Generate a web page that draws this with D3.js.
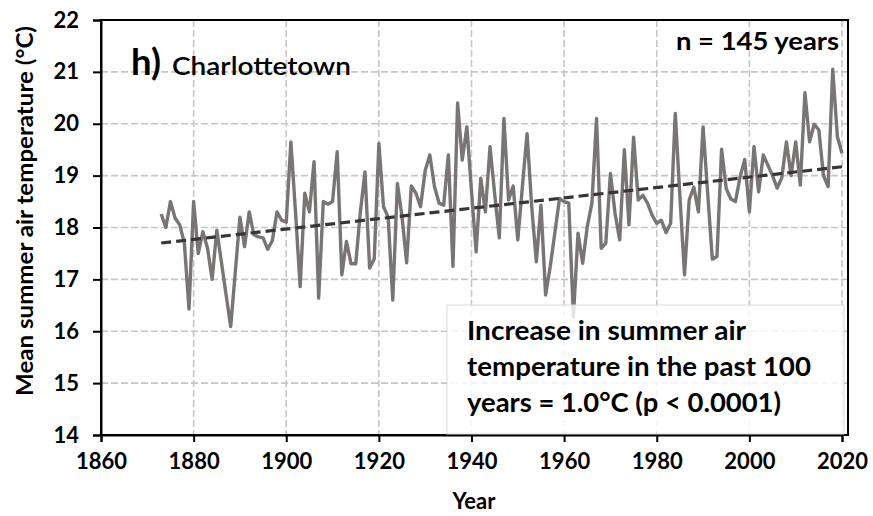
<!DOCTYPE html>
<html>
<head>
<meta charset="utf-8">
<script src="https://cdn.jsdelivr.net/npm/d3@7"></script>
<style>
  html, body { margin: 0; padding: 0; background: #fff; }
  svg { display: block; font-family: Lato, "Open Sans", "Liberation Sans", sans-serif; }
</style>
</head>
<body>
<svg id="chart" width="873" height="516"></svg>
<script>
// Mean summer air temperature, Charlottetown (1886, 1887 and 1889 not recorded)
const years = [
  1873, 1874, 1875, 1876, 1877, 1878, 1879, 1880, 1881, 1882, 1883, 1884, 1885,
  1888, 1890, 1891, 1892, 1893, 1894, 1895, 1896, 1897, 1898, 1899,
  1900, 1901, 1902, 1903, 1904, 1905, 1906, 1907, 1908, 1909,
  1910, 1911, 1912, 1913, 1914, 1915, 1916, 1917, 1918, 1919,
  1920, 1921, 1922, 1923, 1924, 1925, 1926, 1927, 1928, 1929,
  1930, 1931, 1932, 1933, 1934, 1935, 1936, 1937, 1938, 1939,
  1940, 1941, 1942, 1943, 1944, 1945, 1946, 1947, 1948, 1949,
  1950, 1951, 1952, 1953, 1954, 1955, 1956, 1957, 1958, 1959,
  1960, 1961, 1962, 1963, 1964, 1965, 1966, 1967, 1968, 1969,
  1970, 1971, 1972, 1973, 1974, 1975, 1976, 1977, 1978, 1979,
  1980, 1981, 1982, 1983, 1984, 1985, 1986, 1987, 1988, 1989,
  1990, 1991, 1992, 1993, 1994, 1995, 1996, 1997, 1998, 1999,
  2000, 2001, 2002, 2003, 2004, 2005, 2006, 2007, 2008, 2009,
  2010, 2011, 2012, 2013, 2014, 2015, 2016, 2017, 2018, 2019,
  2020
];
const temps = [
  18.26, 18.00, 18.50, 18.18, 18.05, 17.70, 16.43, 18.50, 17.50, 17.92, 17.60, 17.00, 17.95,
  16.09, 18.20, 17.63, 18.30, 17.86, 17.82, 17.80, 17.58, 17.75, 18.30, 18.14,
  18.10, 19.65, 18.30, 16.86, 18.66, 18.30, 19.27, 16.64, 18.50, 18.45,
  18.50, 19.46, 17.09, 17.73, 17.30, 17.30, 18.30, 19.07, 17.22, 17.40,
  19.62, 18.40, 18.20, 16.60, 18.85, 18.20, 17.32, 18.80, 18.66, 18.40,
  19.10, 19.40, 18.79, 18.47, 18.43, 19.40, 17.25, 20.40, 19.30, 19.94,
  18.70, 17.53, 18.95, 18.30, 19.56, 18.65, 17.80, 20.10, 18.53, 18.80,
  17.76, 18.80, 19.81, 18.40, 17.34, 18.43, 16.70, 17.25, 17.90, 18.56,
  18.50, 18.47, 16.28, 17.89, 17.31, 18.02, 18.47, 20.10, 17.60, 17.70,
  19.04, 18.27, 17.76, 19.50, 18.05, 19.74, 18.53, 18.62, 18.47, 18.24,
  18.08, 18.14, 17.90, 18.08, 20.20, 18.60, 17.09, 18.53, 18.78, 18.30,
  19.94, 18.66, 17.39, 17.44, 19.51, 18.75, 18.55, 18.50, 18.98, 19.31,
  18.30, 19.56, 18.69, 19.40, 19.20, 19.00, 18.76, 18.96, 19.65, 19.00,
  19.65, 18.82, 20.60, 19.65, 19.99, 19.88, 19.00, 18.79, 21.05, 19.75,
  19.43
];
const xTicks = [1860, 1880, 1900, 1920, 1940, 1960, 1980, 2000, 2020];
const yTicks = [14, 15, 16, 17, 18, 19, 20, 21, 22];
const ratePerCentury = 1.0;   // °C per 100 years
const annotationLines = [
  "Increase in summer air",
  "temperature in the past 100",
  "years = 1.0°C (p < 0.0001)"
];
const annotationWidths = [279, 344, 314];

const data = years.map((yr, i) => ({ year: yr, t: temps[i] }));

const svg = d3.select("#chart");
const plotLeft = 101, plotRight = 848, plotTop = 20, plotBottom = 435;

const x = d3.scaleLinear().domain([1860, 2020]).range([plotLeft, 842]);
const y = d3.scaleLinear().domain([14, 22]).range([plotBottom, plotTop]);

// grid
const grid = svg.append("g")
  .attr("stroke", "#c6c6c6").attr("stroke-width", 1.6)
  .attr("stroke-dasharray", "7,3").attr("fill", "none");
grid.selectAll("line.h").data(yTicks.filter(d => d > 14 && d < 22)).join("line")
  .attr("class", "h")
  .attr("x1", plotLeft).attr("x2", plotRight)
  .attr("y1", d => y(d)).attr("y2", d => y(d));
grid.selectAll("line.v").data(xTicks.filter(d => d > 1860)).join("line")
  .attr("class", "v")
  .attr("y1", plotTop).attr("y2", plotBottom)
  .attr("x1", d => x(d)).attr("x2", d => x(d));

// temperature series
const line = d3.line().x(d => x(d.year)).y(d => y(d.t));
svg.append("path").datum(data)
  .attr("d", line)
  .attr("fill", "none")
  .attr("stroke", "#7a7575")
  .attr("stroke-width", 3.4)
  .attr("stroke-linejoin", "round");

// linear trend, slope from the stated rate, fitted through the series mean
const slope = ratePerCentury / 100;
const meanYear = d3.mean(years), meanT = d3.mean(temps);
const trend = yr => meanT + slope * (yr - meanYear);
const firstYear = d3.min(years), lastYear = d3.max(years);
svg.append("line")
  .attr("x1", x(firstYear)).attr("y1", y(trend(firstYear)))
  .attr("x2", x(lastYear)).attr("y2", y(trend(lastYear)))
  .attr("stroke", "#363636").attr("stroke-width", 3.2)
  .attr("stroke-dasharray", "10,5");

// frame
svg.append("rect")
  .attr("x", plotLeft).attr("y", plotTop)
  .attr("width", plotRight - plotLeft).attr("height", plotBottom - plotTop)
  .attr("fill", "none").attr("stroke", "#000").attr("stroke-width", 2);

// axes
const yAxis = d3.axisLeft(y).tickValues(yTicks).tickSize(8).tickPadding(14)
  .tickFormat(d3.format("d"));
const gy = svg.append("g").attr("transform", `translate(${plotLeft},0)`).call(yAxis);
const xAxis = d3.axisBottom(x).tickValues(xTicks).tickSize(7).tickPadding(11)
  .tickFormat(d3.format("d"));
const gx = svg.append("g").attr("transform", `translate(0,${plotBottom})`).call(xAxis);
[gx, gy].forEach(g => {
  g.select(".domain").attr("stroke", "#000").attr("stroke-width", 2);
  g.selectAll(".tick line").attr("stroke", "#000").attr("stroke-width", 2);
  g.selectAll(".tick text")
    .attr("fill", "#000")
    .style("font-family", "Lato, 'Open Sans', sans-serif")
    .style("font-size", "22px").style("font-weight", "bold");
});

// axis titles
svg.append("text")
  .attr("transform", "translate(33,211) rotate(-90)")
  .attr("text-anchor", "middle")
  .attr("textLength", 370).attr("lengthAdjust", "spacingAndGlyphs")
  .style("font-size", "23px").style("font-weight", "bold")
  .text("Mean summer air temperature (°C)");
svg.append("text")
  .attr("x", 474).attr("y", 509)
  .attr("text-anchor", "middle")
  .style("font-size", "22px").style("font-weight", "bold")
  .text("Year");

// panel label
svg.append("text").attr("x", 131).attr("y", 75)
  .attr("textLength", 30).attr("lengthAdjust", "spacingAndGlyphs")
  .style("font-size", "36px").style("font-weight", "bold")
  .text("h)");
svg.append("text").attr("x", 172).attr("y", 75)
  .attr("textLength", 179).attr("lengthAdjust", "spacingAndGlyphs")
  .style("font-size", "25px").style("font-weight", "600")
  .text("Charlottetown");

svg.append("text").attr("x", 839).attr("y", 50)
  .attr("text-anchor", "end")
  .attr("textLength", 163).attr("lengthAdjust", "spacingAndGlyphs")
  .style("font-size", "25px").style("font-weight", "bold")
  .text("n = " + years.length + " years");

// annotation box
svg.append("rect")
  .attr("x", 447).attr("y", 305).attr("width", 397).attr("height", 129)
  .attr("fill", "#fff").attr("fill-opacity", 0.8)
  .attr("stroke", "#d9d9d9").attr("stroke-width", 1);
svg.append("g").selectAll("text").data(annotationLines).join("text")
  .attr("x", 467).attr("y", (d, i) => 340 + i * 36)
  .attr("textLength", (d, i) => annotationWidths[i])
  .attr("lengthAdjust", "spacingAndGlyphs")
  .style("font-size", "26px").style("font-weight", "bold")
  .text(d => d);
</script>
</body>
</html>
